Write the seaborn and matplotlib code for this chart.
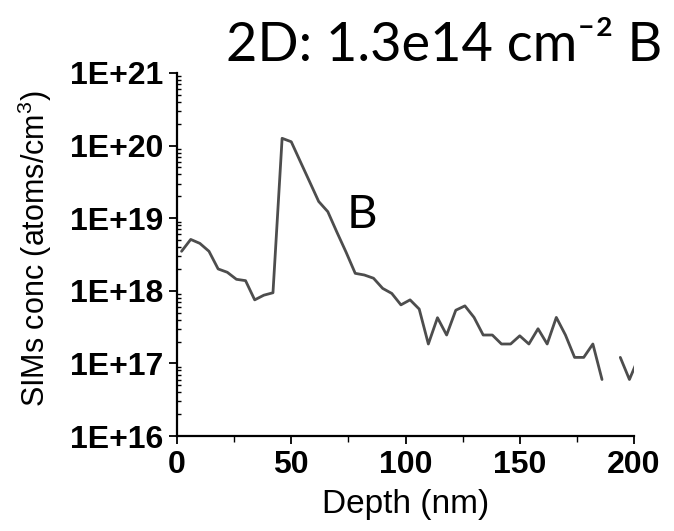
import numpy as np
import pandas as pd
import matplotlib
matplotlib.use("Agg")
import matplotlib.pyplot as plt
import seaborn as sns
from matplotlib.ticker import FixedLocator, LogLocator, NullFormatter

# ---- data ----
depth_nm = [2, 6, 10, 14, 18, 22, 26, 30, 34, 38, 42, 46, 50, 54, 58, 62, 66, 70, 74,
            78, 82, 86, 90, 94, 98, 102, 106, 110, 114, 118, 122, 126, 130, 134, 138,
            142, 146, 150, 154, 158, 162, 166, 170, 174, 178, 182, 186, 190, 194, 198, 202]
boron_conc = [3.5e18, 5.1e18, 4.5e18, 3.5e18, 2.0e18, 1.8e18, 1.44e18, 1.38e18, 7.5e17,
              8.7e17, 9.4e17, 1.26e20, 1.13e20, 6.0e19, 3.2e19, 1.7e19, 1.23e19, 6.4e18,
              3.4e18, 1.74e18, 1.65e18, 1.49e18, 1.08e18, 9.2e17, 6.4e17, 7.5e17, 5.6e17,
              1.85e17, 4.26e17, 2.46e17, 5.4e17, 6.2e17, 4.3e17, 2.46e17, 2.46e17, 1.85e17,
              1.85e17, 2.4e17, 1.85e17, 3.0e17, 1.85e17, 4.3e17, 2.46e17, 1.21e17, 1.21e17,
              1.85e17, 6.0e16, np.nan, 1.21e17, 6.0e16, 1.2e17]

y_ticks = [1e16, 1e17, 1e18, 1e19, 1e20, 1e21]
y_tick_labels = ["1E+16", "1E+17", "1E+18", "1E+19", "1E+20", "1E+21"]
x_ticks = [0, 50, 100, 150, 200]
x_tick_labels = ["0", "50", "100", "150", "200"]

title_text = "2D: 1.3e14 cm\u207b\u00b2 B"
annot_text = "B"
xlabel = "Depth (nm)"
ylabel = "SIMs conc (atoms/cm$^{3}$)"

# build frame; split into segments at missing values
df = pd.DataFrame({"depth": depth_nm, "conc": boron_conc})
df["seg"] = df["conc"].isna().cumsum()
df = df.dropna()

sns.set_style("ticks")
plt.rcParams["font.family"] = ["Liberation Sans", "DejaVu Sans"]
plt.rcParams["mathtext.fontset"] = "custom"
plt.rcParams["mathtext.rm"] = "Liberation Sans"
for k in ["text.color", "axes.labelcolor", "xtick.color", "ytick.color", "axes.edgecolor"]:
    plt.rcParams[k] = "black"

fig = plt.figure(figsize=(6.74, 5.31), dpi=100)
ax = fig.add_axes([177 / 674, 1 - 436 / 531, 457 / 674, 363 / 531])

sns.lineplot(data=df, x="depth", y="conc", units="seg", estimator=None,
             color="#4d4d4d", linewidth=2.0, ax=ax, legend=False)

ax.set_yscale("log")
ax.set_xlim(0, 200)
ax.set_ylim(1e16, 1e21)

ax.yaxis.set_major_locator(FixedLocator(y_ticks))
ax.set_yticklabels(y_tick_labels)
ax.yaxis.set_minor_locator(LogLocator(base=10, subs=np.arange(2, 10)))
ax.yaxis.set_minor_formatter(NullFormatter())
ax.set_xticks(x_ticks)
ax.set_xticklabels(x_tick_labels)
ax.set_xticks([25, 75, 125, 175], minor=True)

for lab in ax.get_xticklabels() + ax.get_yticklabels():
    lab.set_fontweight("bold")
    lab.set_fontsize(23)
    lab.set_color("black")

ax.tick_params(axis="both", which="major", direction="out", length=6, width=1.3,
               color="black")
ax.tick_params(axis="y", which="major", pad=4)
ax.tick_params(axis="x", which="major", pad=4)
ax.tick_params(axis="y", which="minor", direction="in", length=3, width=1.0, color="black")
ax.tick_params(axis="x", which="minor", direction="out", length=4, width=1.0, color="black")

for s in ["top", "right"]:
    ax.spines[s].set_visible(False)
for s in ["left", "bottom"]:
    ax.spines[s].set_linewidth(1.6)
    ax.spines[s].set_color("black")

ax.set_xlabel(xlabel, fontsize=24, color="black")
ax.set_ylabel(ylabel, fontsize=22, color="black")
ax.xaxis.set_label_coords(0.5, -0.19)
ax.yaxis.set_label_coords(-0.31, 0.515)
ax.xaxis.label.set_va("center")
ax.yaxis.label.set_va("center")

fig.text(662 / 674, 1 - 61 / 531, title_text, ha="right", va="baseline",
         fontsize=39, family=["Lato", "DejaVu Sans"], color="black")
ax.text(81, 1.1e19, annot_text, ha="center", va="center", fontsize=34,
        family=["Lato", "DejaVu Sans"], color="black")

fig.savefig("out.png", dpi=100)
